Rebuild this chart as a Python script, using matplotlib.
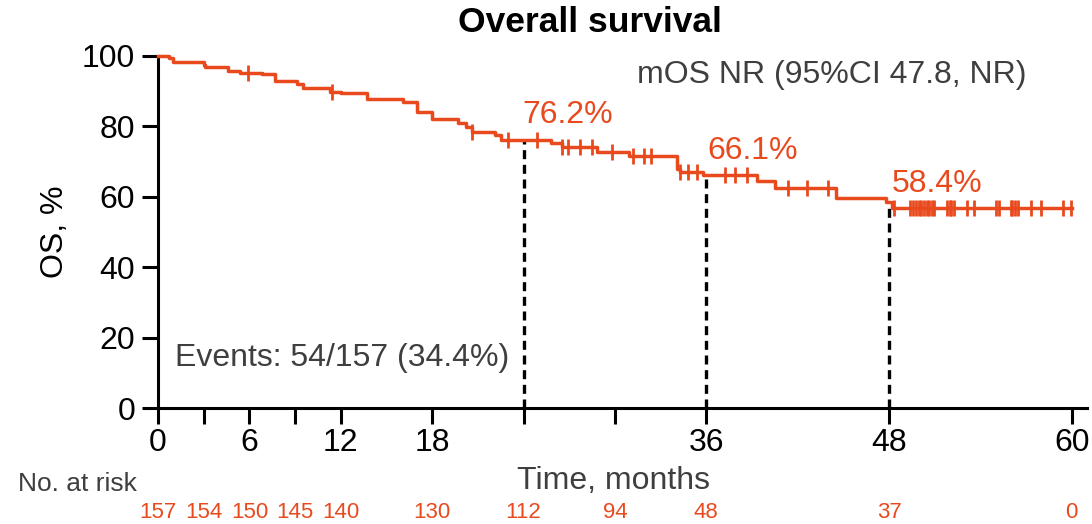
import numpy as np
import matplotlib
matplotlib.use("Agg")
import matplotlib.pyplot as plt

plt.rcParams['font.family'] = ['Liberation Sans', 'DejaVu Sans']

# Kaplan-Meier estimate: event times (months) and survival (%) after each step
event_times = [0.7, 1.0, 3.0, 3.1, 4.6, 5.4, 6.8, 7.7, 9.1, 9.5, 11.3, 12.0,
               13.7, 16.1, 17.0, 18.0, 19.7, 20.2, 20.6, 22.1, 22.5, 25.8,
               26.5, 28.8, 30.9, 34.05, 34.25, 35.8, 39.3, 40.5, 44.5, 47.8, 48.2]
survival = [99.4, 98.1, 97.5, 96.8, 95.7, 95.2, 94.7, 92.9, 91.9, 90.8, 89.6,
            89.3, 87.6, 86.9, 84.1, 82.0, 80.8, 79.9, 78.4, 77.5, 76.2, 75.2,
            74.0, 72.8, 71.6, 68.0, 67.0, 66.1, 64.5, 62.4, 59.6, 58.4, 56.8]
last_followup = 60.0

# Censored observations (months)
censor_times = [5.9, 11.45, 20.6, 23.0, 24.9, 26.5, 26.9, 27.7, 28.5, 29.8,
                31.2, 31.9, 32.4, 34.3, 34.8, 35.4, 37.2, 37.9, 38.7, 41.4,
                42.6, 44.0, 48.3, 49.4, 49.6, 49.8, 50.0, 50.1, 50.3, 50.5,
                50.6, 50.8, 50.95, 51.8, 52.0, 52.1, 52.3, 53.1, 53.6, 55.0,
                55.2, 56.0, 56.1, 56.3, 56.5, 57.3, 58.0, 59.4, 59.95]

# Landmark estimates
landmark_times = [24, 36, 48]
landmark_values = [76.2, 66.1, 58.4]

# Number at risk
risk_times = [0, 3, 6, 9, 12, 18, 24, 30, 36, 48, 60]
risk_counts = [157, 154, 150, 145, 140, 130, 112, 94, 48, 37, 0]

x_ticks = [0, 3, 6, 9, 12, 18, 24, 30, 36, 48, 60]
x_tick_labels = ['0', '', '6', '', '12', '18', '', '', '36', '48', '60']
y_ticks = [0, 20, 40, 60, 80, 100]

ORANGE = '#E84A1E'
GRAY = '#3F3F3F'
FS = 23

# label offsets (months, % points) for the landmark annotations
label_dx = [-0.1, 0.1, 0.2]
label_dy = [7.0, 7.0, 5.2]

fig = plt.figure(figsize=(10.92, 5.24), dpi=100)
ax = fig.add_axes([0.1447, 0.2208, 0.8507, 0.6729])

xs = [0.0] + event_times + [last_followup]
ys = [100.0] + survival + [survival[-1]]
ax.step(xs, ys, where='post', color=ORANGE, lw=2.5, zorder=3, clip_on=False)


def surv_at(t):
    s = 100.0
    for et, sv in zip(event_times, survival):
        if et <= t:
            s = sv
    return s


ax.plot(censor_times, [surv_at(t) for t in censor_times], ls='none',
        marker='|', ms=11, mew=2.0, color=ORANGE, zorder=3, clip_on=False)

for t, v, dx, dy in zip(landmark_times, landmark_values, label_dx, label_dy):
    ax.plot([t, t], [0, v], color='black', lw=2.4, dashes=(2.7, 1.7),
            zorder=2, clip_on=False)
    ax.text(t + dx, v + dy, f'{v:.1f}%', color=ORANGE, fontsize=FS,
            ha='left', va='center')

ax.text(57.05, 94.5, 'mOS NR (95%CI 47.8, NR)', color=GRAY, fontsize=FS,
        ha='right', va='center')
ax.text(1.1, 14.2, 'Events: 54/157 (34.4%)', color=GRAY, fontsize=FS,
        ha='left', va='center')

ax.set_xlim(0, 61)
ax.set_ylim(0, 100)
ax.set_xticks(x_ticks)
ax.set_xticklabels(x_tick_labels)
ax.set_yticks(y_ticks)
for s in ['top', 'right']:
    ax.spines[s].set_visible(False)
for s in ['left', 'bottom']:
    ax.spines[s].set_linewidth(2.2)
ax.tick_params(axis='both', direction='out', length=11.5, width=2.2,
               labelsize=FS, colors='black')
ax.tick_params(axis='x', pad=3)
ax.tick_params(axis='y', pad=5)

ax.text(-0.1109, 0.5, 'OS, %', transform=ax.transAxes, rotation=90,
        fontsize=FS, ha='center', va='center', color='black')
ax.text(0.49, -0.205, 'Time, months', transform=ax.transAxes, color=GRAY,
        fontsize=FS, ha='center', va='center')

fig.text(590 / 1092, 1 - 23 / 524, 'Overall survival', fontsize=25.5,
         fontweight='bold', ha='center', va='center')

# Number-at-risk row
fig.text(18 / 1092, 1 - 484 / 524, 'No. at risk', fontsize=19, color=GRAY,
         ha='left', va='center')
trans = matplotlib.transforms.blended_transform_factory(ax.transData, fig.transFigure)
for t, n in zip(risk_times, risk_counts):
    ax.text(t, 1 - 512 / 524, str(n), transform=trans, color=ORANGE,
            fontsize=16, ha='center', va='center')

fig.savefig('out.png', dpi=100)
